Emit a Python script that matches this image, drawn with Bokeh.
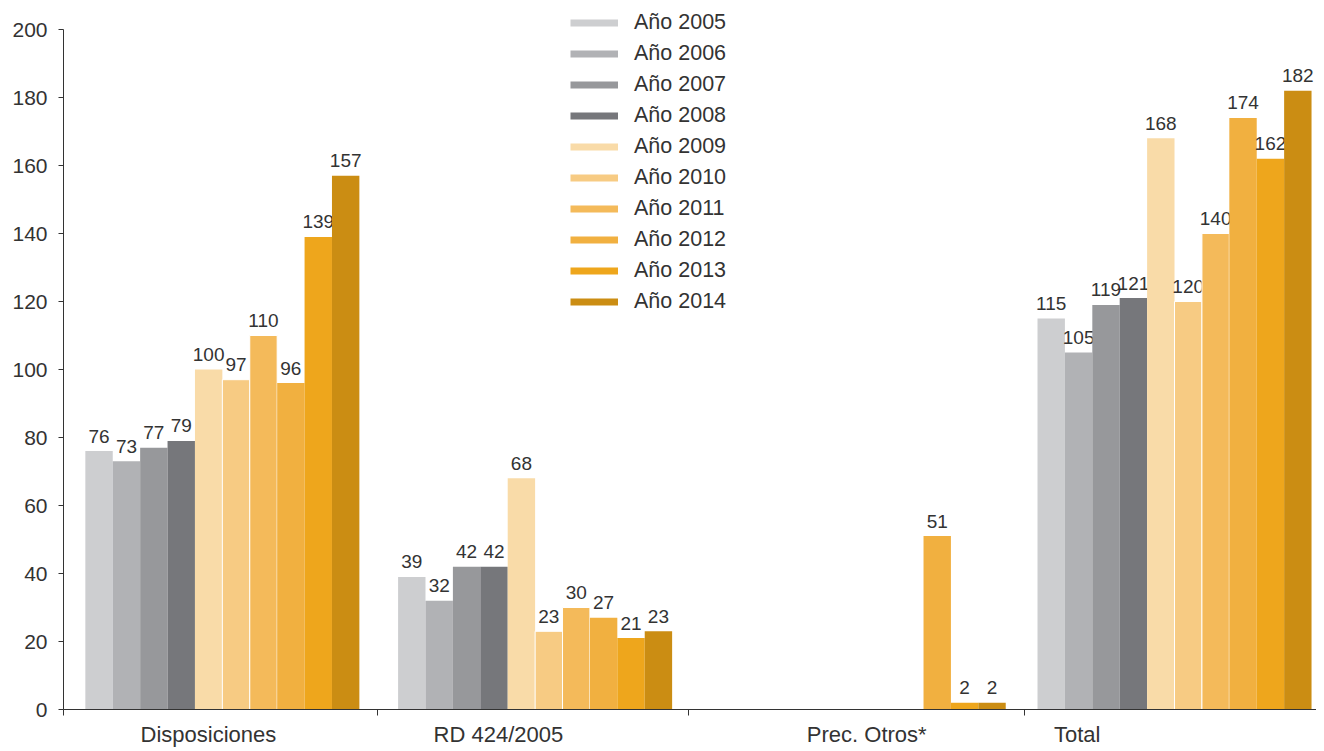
from bokeh.plotting import figure
from bokeh.models import ColumnDataSource, Range1d, FixedTicker, Legend, LegendItem
from bokeh.core.properties import value
from bokeh.embed import file_html
from bokeh.resources import INLINE

# ---- data ----
categories = ["Disposiciones", "RD 424/2005", "Prec. Otros*", "Total"]
years = ["Año 2005", "Año 2006", "Año 2007", "Año 2008", "Año 2009",
         "Año 2010", "Año 2011", "Año 2012", "Año 2013", "Año 2014"]
disposiciones = [76, 73, 77, 79, 100, 97, 110, 96, 139, 157]
rd_424_2005 = [39, 32, 42, 42, 68, 23, 30, 27, 21, 23]
prec_otros = [None, None, None, None, None, None, None, 51, 2, 2]
total = [115, 105, 119, 121, 168, 120, 140, 174, 162, 182]
y_ticks = [0, 20, 40, 60, 80, 100, 120, 140, 160, 180, 200]

# ---- style / layout ----
colors = ["#CDCED0", "#B1B2B5", "#97989B", "#76777B", "#F9DBA8",
          "#F7CB83", "#F4BA5A", "#F1B040", "#EEA61C", "#CB8D13"]
outline = [None, None, None, None, None, "white", "white", None, None, None]
FONT = "Liberation Sans"
TXT = "#333333"
bar_w = 27.6
group_left = [22, 337, 673, 981]          # left edge of each category's bar block
boundaries = [0, 316, 629, 968]           # category separator ticks
label_pos = [146, 438, 809, 1021]         # category label positions
Y_MAX = 200
FRAME_H = 709
PX_PER_UNIT = 680 / Y_MAX                 # 200 sits 29px below the top

series = [disposiciones, rd_424_2005, prec_otros, total]

p = figure(frame_width=1253, frame_height=FRAME_H, output_backend="svg",
           toolbar_location=None,
           x_range=Range1d(0, 1262), y_range=Range1d(0, FRAME_H / PX_PER_UNIT),
           min_border_left=63, min_border_right=0, min_border_top=0,
           min_border_bottom=0)
p.outline_line_color = None
p.xgrid.visible = False
p.ygrid.visible = False
p.background_fill_color = "white"
p.border_fill_color = "white"

legend_items = []
for i, yr in enumerate(years):
    xs, tops, txt = [], [], []
    for g in range(len(categories)):
        v = series[g][i]
        if v is None:
            continue
        xs.append(group_left[g] + (i + 0.5) * bar_w)
        tops.append(v)
        txt.append(str(v))
    src = ColumnDataSource(dict(x=xs, top=tops, label=txt))
    if outline[i]:
        p.vbar(x="x", top="top", bottom=0, width=bar_w, source=src,
               fill_color=colors[i], line_color=outline[i], line_width=1)
    else:
        p.vbar(x="x", top="top", bottom=0, width=bar_w, source=src,
               fill_color=colors[i], line_color=None)
    p.text(x="x", y="top", text="label", source=src, text_align="center",
           text_baseline="alphabetic", y_offset=-15,
           text_font=value(FONT), text_font_size="19px", text_color=TXT)
    lr = p.line(x=[float("nan")], y=[float("nan")], line_color=colors[i],
                line_width=7)
    legend_items.append(LegendItem(label=yr, renderers=[lr]))

legend = Legend(items=legend_items, location=(507, 395), padding=0, margin=0,
                spacing=6, glyph_width=48, glyph_height=21, label_height=21,
                label_standoff=16, label_text_font=FONT,
                label_text_font_size="21.5px", label_text_color=TXT,
                border_line_color=None, background_fill_alpha=0)
p.add_layout(legend, "center")

# y axis
p.yaxis.bounds = (0, Y_MAX)
p.yaxis.ticker = FixedTicker(ticks=y_ticks)
p.yaxis.major_tick_out = 5
p.yaxis.major_tick_in = 0
p.yaxis.minor_tick_out = 0
p.yaxis.minor_tick_in = 0
p.yaxis.major_label_standoff = 11
p.yaxis.axis_line_color = TXT
p.yaxis.major_tick_line_color = TXT
p.yaxis.major_label_text_font = FONT
p.yaxis.major_label_text_font_size = "21px"
p.yaxis.major_label_text_color = TXT

# x axis
p.xaxis.ticker = FixedTicker(ticks=label_pos, minor_ticks=boundaries)
p.xaxis.major_label_overrides = {pos: c for pos, c in zip(label_pos, categories)}
p.xaxis.major_tick_out = 0
p.xaxis.major_tick_in = 0
p.xaxis.minor_tick_out = 6
p.xaxis.minor_tick_in = 0
p.xaxis.axis_line_color = TXT
p.xaxis.minor_tick_line_color = TXT
p.xaxis.major_label_standoff = 6
p.xaxis.major_label_text_font = FONT
p.xaxis.major_label_text_font_size = "22px"
p.xaxis.major_label_text_color = TXT

open("out.html", "w").write(file_html(p, INLINE))
